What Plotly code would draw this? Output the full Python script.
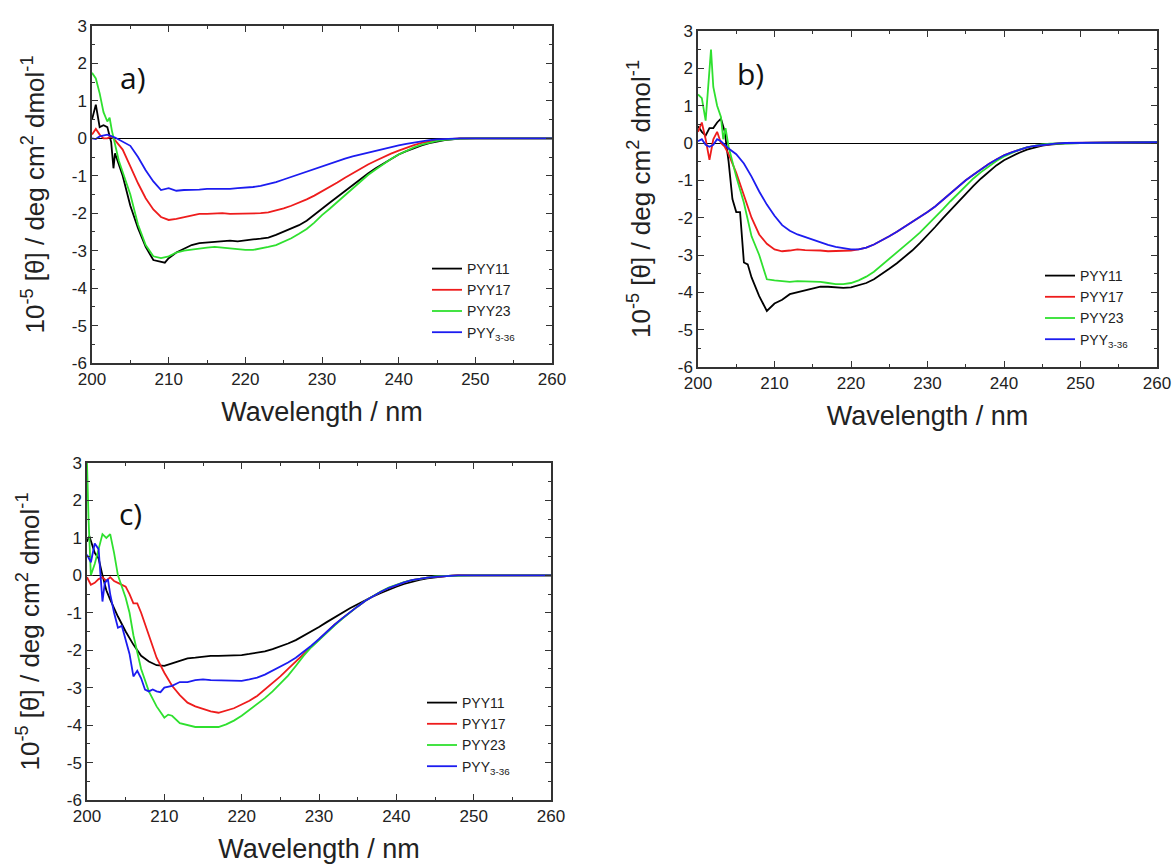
import plotly.graph_objects as go

# ---------------- data (wavelength nm, 10^-5 [theta]) ----------------
a_pyy11 = [(200,0.5),(200.5,0.9),(201,0.3),(201.5,0.35),(202,0.3),(202.5,-0.1),(202.8,-0.8),(203,-0.4),(204,-1.0),(205,-1.8),(206,-2.4),(207,-2.9),(208,-3.25),(209,-3.3),(209.5,-3.32),(210,-3.2),(211,-3.05),(212,-2.95),(213,-2.85),(214,-2.8),(215,-2.78),(216,-2.75),(217,-2.73),(218,-2.73),(219,-2.75),(220,-2.72),(221,-2.7),(222,-2.68),(223,-2.65),(224,-2.58),(225,-2.5),(226,-2.42),(227,-2.32),(228,-2.2),(229,-2.05),(230,-1.88),(231,-1.72),(232,-1.56),(233,-1.4),(234,-1.24),(235,-1.08),(236,-0.94),(237,-0.8),(238,-0.67),(239,-0.55),(240,-0.43),(241,-0.34),(242,-0.26),(243,-0.19),(244,-0.13),(245,-0.08),(246,-0.05),(247,-0.03),(248,-0.01),(250,0),(255,0),(260,0)]
a_pyy17 = [(200,0.1),(200.5,0.25),(201,0.1),(201.5,0.0),(202,0.0),(202.5,0.05),(203,-0.05),(204,-0.3),(205,-0.75),(206,-1.2),(207,-1.6),(208,-1.9),(209,-2.1),(210,-2.18),(211,-2.15),(212,-2.1),(213,-2.05),(214,-2.02),(215,-2.02),(216,-2.0),(217,-2.0),(218,-2.02),(219,-2.02),(220,-2.02),(221,-2.0),(222,-2.0),(223,-1.98),(224,-1.93),(225,-1.87),(226,-1.8),(227,-1.72),(228,-1.63),(229,-1.53),(230,-1.42),(231,-1.3),(232,-1.18),(233,-1.05),(234,-0.93),(235,-0.82),(236,-0.7),(237,-0.6),(238,-0.5),(239,-0.41),(240,-0.33),(241,-0.25),(242,-0.18),(243,-0.12),(244,-0.08),(245,-0.05),(246,-0.03),(247,-0.01),(248,0),(250,0),(255,0),(260,0)]
a_pyy23 = [(200,1.75),(200.5,1.6),(201,1.2),(201.5,0.7),(202,0.45),(202.3,0.55),(202.6,0.2),(203,-0.2),(203.5,-0.6),(204,-0.9),(205,-1.5),(206,-2.3),(207,-2.85),(208,-3.15),(209,-3.2),(210,-3.15),(211,-3.05),(212,-3.0),(213,-2.97),(214,-2.95),(215,-2.92),(216,-2.9),(217,-2.92),(218,-2.95),(219,-2.97),(220,-2.98),(221,-2.98),(222,-2.95),(223,-2.9),(224,-2.85),(225,-2.77),(226,-2.67),(227,-2.55),(228,-2.42),(229,-2.25),(230,-2.05),(231,-1.88),(232,-1.7),(233,-1.52),(234,-1.33),(235,-1.15),(236,-0.98),(237,-0.83),(238,-0.68),(239,-0.55),(240,-0.43),(241,-0.33),(242,-0.24),(243,-0.17),(244,-0.11),(245,-0.07),(246,-0.04),(247,-0.02),(248,-0.01),(250,0),(255,0),(260,0)]
a_pyy336 = [(200,0.0),(200.5,-0.02),(201,0.05),(202,0.1),(203,0.02),(204,-0.1),(205,-0.2),(206,-0.5),(207,-0.85),(208,-1.15),(209,-1.38),(210,-1.33),(211,-1.4),(212,-1.38),(213,-1.38),(214,-1.37),(215,-1.35),(216,-1.35),(217,-1.37),(218,-1.35),(219,-1.33),(220,-1.32),(221,-1.3),(222,-1.27),(223,-1.23),(224,-1.17),(225,-1.1),(226,-1.03),(227,-0.95),(228,-0.88),(229,-0.8),(230,-0.73),(231,-0.66),(232,-0.6),(233,-0.54),(234,-0.48),(235,-0.43),(236,-0.38),(237,-0.33),(238,-0.28),(239,-0.23),(240,-0.19),(241,-0.15),(242,-0.11),(243,-0.08),(244,-0.05),(245,-0.03),(246,-0.02),(248,0),(250,0),(255,0),(260,0)]

b_pyy11 = [(200,0.45),(200.5,0.3),(201,0.2),(201.5,0.4),(202,0.4),(202.5,0.55),(203,0.65),(203.5,0.3),(203.8,-0.2),(204,-0.5),(204.5,-1.5),(205,-1.85),(205.5,-1.85),(206,-3.2),(206.5,-3.25),(207,-3.6),(208,-4.1),(209,-4.5),(210,-4.3),(211,-4.2),(212,-4.05),(213,-4.0),(214,-3.95),(215,-3.9),(216,-3.85),(217,-3.85),(218,-3.87),(219,-3.88),(220,-3.87),(221,-3.82),(222,-3.75),(223,-3.65),(224,-3.52),(225,-3.37),(226,-3.22),(227,-3.06),(228,-2.88),(229,-2.68),(230,-2.47),(231,-2.25),(232,-2.02),(233,-1.8),(234,-1.57),(235,-1.35),(236,-1.15),(237,-0.95),(238,-0.78),(239,-0.6),(240,-0.46),(241,-0.35),(242,-0.26),(243,-0.18),(244,-0.12),(245,-0.07),(246,-0.04),(247,-0.02),(248,-0.01),(250,0),(255,0.01),(260,0.02)]
b_pyy17 = [(200,0.3),(200.5,0.55),(201,0.1),(201.5,-0.45),(202,0.1),(202.5,0.3),(203,0.0),(203.5,-0.1),(204,-0.3),(205,-0.8),(206,-1.4),(207,-2.0),(208,-2.45),(209,-2.7),(210,-2.85),(211,-2.9),(212,-2.88),(213,-2.85),(214,-2.87),(215,-2.87),(216,-2.88),(217,-2.9),(218,-2.9),(219,-2.9),(220,-2.88),(221,-2.85),(222,-2.8),(223,-2.72),(224,-2.62),(225,-2.5),(226,-2.38),(227,-2.25),(228,-2.1),(229,-1.97),(230,-1.85),(231,-1.7),(232,-1.52),(233,-1.35),(234,-1.18),(235,-1.0),(236,-0.85),(237,-0.7),(238,-0.56),(239,-0.44),(240,-0.33),(241,-0.25),(242,-0.18),(243,-0.12),(244,-0.08),(245,-0.05),(246,-0.03),(247,-0.01),(248,0),(250,0),(255,0.01),(260,0.02)]
b_pyy23 = [(200,1.3),(200.5,1.2),(201,0.6),(201.4,1.6),(201.7,2.5),(202,1.5),(202.5,1.0),(203,0.7),(203.3,0.1),(203.6,0.4),(204,-0.1),(204.5,-0.5),(205,-0.9),(206,-1.6),(207,-2.5),(208,-3.0),(208.5,-3.3),(209,-3.65),(210,-3.68),(211,-3.7),(212,-3.72),(213,-3.7),(214,-3.7),(215,-3.72),(216,-3.72),(217,-3.75),(218,-3.78),(219,-3.78),(220,-3.75),(221,-3.68),(222,-3.58),(223,-3.45),(224,-3.28),(225,-3.1),(226,-2.92),(227,-2.75),(228,-2.58),(229,-2.4),(230,-2.2),(231,-2.0),(232,-1.78),(233,-1.56),(234,-1.35),(235,-1.14),(236,-0.95),(237,-0.78),(238,-0.62),(239,-0.48),(240,-0.36),(241,-0.26),(242,-0.18),(243,-0.12),(244,-0.07),(245,-0.04),(246,-0.02),(248,0),(250,0),(255,0.01),(260,0.02)]
b_pyy336 = [(200,0.05),(200.5,0.1),(201,-0.05),(201.5,-0.1),(202,-0.05),(202.5,0.1),(203,0.05),(203.5,-0.05),(204,-0.15),(205,-0.3),(206,-0.55),(207,-0.9),(208,-1.3),(209,-1.65),(210,-1.95),(211,-2.2),(212,-2.35),(213,-2.45),(214,-2.52),(215,-2.6),(216,-2.67),(217,-2.73),(218,-2.78),(219,-2.82),(220,-2.85),(221,-2.85),(222,-2.8),(223,-2.72),(224,-2.62),(225,-2.5),(226,-2.38),(227,-2.25),(228,-2.1),(229,-1.97),(230,-1.85),(231,-1.7),(232,-1.52),(233,-1.35),(234,-1.18),(235,-1.0),(236,-0.85),(237,-0.7),(238,-0.56),(239,-0.44),(240,-0.33),(241,-0.25),(242,-0.18),(243,-0.12),(244,-0.08),(245,-0.05),(246,-0.03),(247,-0.01),(248,0),(250,0),(255,0.01),(260,0.02)]

c_pyy11 = [(200,0.9),(200.3,1.05),(201,0.6),(201.5,0.45),(202,0.0),(202.5,-0.4),(203,-0.65),(204,-1.1),(205,-1.5),(206,-1.85),(207,-2.15),(208,-2.3),(209,-2.4),(210,-2.42),(211,-2.35),(212,-2.28),(213,-2.22),(214,-2.2),(215,-2.17),(216,-2.15),(217,-2.15),(218,-2.15),(219,-2.15),(220,-2.13),(221,-2.1),(222,-2.07),(223,-2.03),(224,-1.97),(225,-1.9),(226,-1.82),(227,-1.73),(228,-1.62),(229,-1.5),(230,-1.38),(231,-1.25),(232,-1.12),(233,-1.0),(234,-0.88),(235,-0.77),(236,-0.66),(237,-0.56),(238,-0.47),(239,-0.38),(240,-0.3),(241,-0.23),(242,-0.17),(243,-0.12),(244,-0.08),(245,-0.05),(246,-0.03),(247,-0.01),(248,0),(250,0),(255,0),(260,0)]
c_pyy17 = [(200,-0.05),(200.5,-0.25),(201,-0.2),(201.5,-0.1),(202,-0.05),(202.5,-0.15),(203,-0.05),(203.5,-0.15),(204,-0.2),(205,-0.3),(205.5,-0.5),(206,-0.75),(206.5,-0.75),(207,-1.0),(208,-1.6),(209,-2.2),(210,-2.6),(211,-2.95),(212,-3.2),(213,-3.4),(214,-3.5),(215,-3.57),(216,-3.63),(217,-3.67),(218,-3.6),(219,-3.55),(220,-3.45),(221,-3.35),(222,-3.22),(223,-3.05),(224,-2.88),(225,-2.7),(226,-2.5),(227,-2.3),(228,-2.1),(229,-1.9),(230,-1.7),(231,-1.5),(232,-1.32),(233,-1.15),(234,-0.98),(235,-0.83),(236,-0.68),(237,-0.55),(238,-0.44),(239,-0.34),(240,-0.26),(241,-0.19),(242,-0.13),(243,-0.09),(244,-0.06),(245,-0.04),(246,-0.02),(248,0),(250,0),(255,0),(260,0)]
c_pyy23 = [(200,3.0),(200.2,1.5),(200.5,0.0),(201,0.3),(201.5,0.7),(202,1.1),(202.5,1.0),(203,1.1),(203.5,0.6),(204,0.0),(204.5,-0.3),(205,-0.6),(205.5,-1.0),(206,-1.6),(207,-2.5),(208,-3.1),(209,-3.5),(210,-3.8),(210.5,-3.72),(211,-3.75),(212,-3.95),(213,-4.0),(214,-4.05),(215,-4.05),(216,-4.05),(217,-4.05),(218,-3.98),(219,-3.88),(220,-3.75),(221,-3.6),(222,-3.45),(223,-3.28),(224,-3.1),(225,-2.9),(226,-2.68),(227,-2.42),(228,-2.15),(229,-1.92),(230,-1.72),(231,-1.53),(232,-1.34),(233,-1.16),(234,-0.99),(235,-0.83),(236,-0.68),(237,-0.55),(238,-0.43),(239,-0.33),(240,-0.25),(241,-0.18),(242,-0.13),(243,-0.09),(244,-0.06),(245,-0.03),(246,-0.02),(248,0),(250,0),(255,0),(260,0)]
c_pyy336 = [(200,0.55),(200.5,0.35),(201,0.85),(201.5,0.7),(202,-0.7),(202.3,-0.2),(202.7,-0.1),(203,-0.5),(203.5,-1.0),(204,-1.4),(204.5,-1.35),(205,-1.75),(205.5,-2.1),(206,-2.7),(206.5,-2.55),(207,-2.75),(207.5,-3.05),(208,-3.1),(208.5,-3.05),(209,-3.1),(209.5,-3.12),(210,-3.0),(211,-2.95),(212,-2.85),(213,-2.85),(214,-2.8),(215,-2.78),(216,-2.8),(217,-2.8),(218,-2.82),(219,-2.82),(220,-2.82),(221,-2.78),(222,-2.73),(223,-2.65),(224,-2.55),(225,-2.45),(226,-2.33),(227,-2.2),(228,-2.05),(229,-1.88),(230,-1.7),(231,-1.5),(232,-1.32),(233,-1.15),(234,-0.98),(235,-0.83),(236,-0.68),(237,-0.55),(238,-0.44),(239,-0.34),(240,-0.26),(241,-0.19),(242,-0.13),(243,-0.09),(244,-0.06),(245,-0.04),(246,-0.02),(248,0),(250,0),(255,0),(260,0)]

series_names = ["PYY11", "PYY17", "PYY23", "PYY<sub>3-36</sub>"]
series_colors = ["#000000", "#ee1c1c", "#2fe02f", "#1c1cf0"]
panel_labels = ["a)", "b)", "c)"]
x_ticks = [200, 210, 220, 230, 240, 250, 260]
x_tick_labels = ["200", "210", "220", "230", "240", "250", "260"]
y_ticks = [-6, -5, -4, -3, -2, -1, 0, 1, 2, 3]
y_tick_labels = ["-6", "-5", "-4", "-3", "-2", "-1", "0", "1", "2", "3"]

panels = [
    [a_pyy11, a_pyy17, a_pyy23, a_pyy336],
    [b_pyy11, b_pyy17, b_pyy23, b_pyy336],
    [c_pyy11, c_pyy17, c_pyy23, c_pyy336],
]

W, H = 1176, 868
# plot-area boxes in pixels (left, right, top, bottom)
boxes = [(92, 552, 26, 363), (698, 1157, 31, 367), (87, 551, 463, 800)]
legend_pos = [(427, 253), (1040, 260), (422, 687)]
label_pos = [(205.4, 1.62), (206.8, 1.85), (205.6, 1.66)]

FONT = "Liberation Sans, Arial, sans-serif"
fig = go.Figure()

for i, panel in enumerate(panels):
    sfx = "" if i == 0 else str(i + 1)
    lg = "legend" + sfx
    for name, color, data in zip(series_names, series_colors, panel):
        xs = [p[0] for p in data]
        ys = [p[1] for p in data]
        fig.add_trace(go.Scatter(
            x=xs, y=ys, mode="lines", name=name,
            line=dict(color=color, width=1.8),
            xaxis="x" + sfx, yaxis="y" + sfx, legend=lg,
        ))

layout = dict(
    width=W, height=H, margin=dict(l=0, r=0, t=0, b=0, autoexpand=False),
    paper_bgcolor="white", plot_bgcolor="white",
    font=dict(family=FONT, color="#222"),
    annotations=[],
)

for i, (l, r, t, b) in enumerate(boxes):
    sfx = "" if i == 0 else str(i + 1)
    common = dict(
        showline=True, mirror="ticks", linecolor="#333", linewidth=1.5,
        ticks="inside", ticklen=6, tickwidth=1.3, tickcolor="#333",
        showgrid=False, automargin=False,
        tickfont=dict(family=FONT, size=17, color="#222"),
    )
    layout["xaxis" + sfx] = dict(
        domain=[l / W, r / W], anchor="y" + sfx, range=[200, 260],
        tickvals=x_ticks, ticktext=x_tick_labels, zeroline=False,
        minor=dict(ticks="inside", ticklen=3, tickcolor="#333", dtick=5, tick0=200),
        title=dict(text="Wavelength / nm", font=dict(family=FONT, size=27, color="#222"), standoff=14),
        **common,
    )
    layout["yaxis" + sfx] = dict(
        domain=[1 - b / H, 1 - t / H], anchor="x" + sfx, range=[-6, 3],
        tickvals=y_ticks, ticktext=y_tick_labels, zeroline=True,
        zerolinecolor="#000", zerolinewidth=1.2,
        minor=dict(ticks="inside", ticklen=3, tickcolor="#333", dtick=0.5, tick0=0),
        title=dict(text="10<sup>-5</sup> [θ] / deg cm<sup>2</sup> dmol<sup>-1</sup>",
                   font=dict(family=FONT, size=26, color="#222"), standoff=20),
        **common,
    )
    lx, ly = legend_pos[i]
    layout["legend" + sfx] = dict(
        x=lx / W, y=1 - ly / H, xanchor="left", yanchor="top",
        bgcolor="rgba(0,0,0,0)", borderwidth=0,
        font=dict(family=FONT, size=14, color="#222"),
        tracegroupgap=0, itemwidth=30,
    )
    layout["annotations"].append(dict(
        text=panel_labels[i], x=label_pos[i][0], y=label_pos[i][1],
        xref="x" + sfx, yref="y" + sfx, showarrow=False,
        font=dict(family="Open Sans, sans-serif", size=30, color="#111"),
    ))

fig.update_layout(**layout)
fig.write_html(
    "out.html",
    config={"displayModeBar": False},
    post_script="document.body.style.margin='0';document.body.style.overflow='hidden';",
)
